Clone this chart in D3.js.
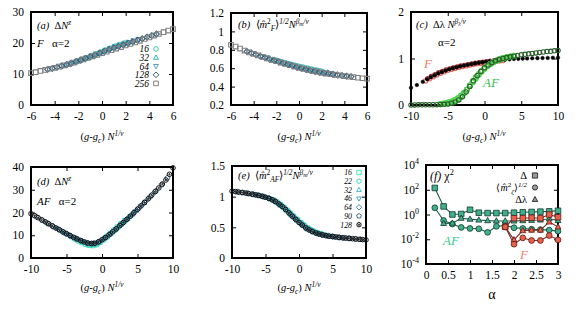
<!DOCTYPE html>
<html><head><meta charset="utf-8">
<script src="https://cdn.jsdelivr.net/npm/d3@7"></script>
<style>
body{margin:0;background:#fff}
svg{display:block;font-family:"Liberation Serif","Times New Roman",serif}
text{white-space:pre}
</style></head><body>
<svg id="c" width="580" height="309"></svg>
<script>
// ---------- DATA ----------
// panels (a),(b): F, alpha=2, sizes N
const sizesF = ["16","32","64","128","256"];
const xF256 = [-6,-5.6,-5.2,-4.8,-4.4,-4,-3.6,-3.2,-2.8,-2.4,-2,-1.6,-1.2,-0.8,-0.4,0,0.4,0.8,1.2,1.6,2,2.4,2.8,3.2,3.6,4,4.4,4.8,5.2,5.6,6];
const xF128 = [-4.6,-4.2,-3.8,-3.4,-3,-2.6,-2.2,-1.8,-1.4,-1,-0.6,-0.2,0.2,0.6,1,1.4,1.8,2.2,2.6,3,3.4,3.8,4.2,4.6];
const xF64 = [-3.3,-2.9,-2.5,-2.1,-1.7,-1.3,-0.9,-0.5,-0.1,0.3,0.7,1.1,1.5,1.9,2.3,2.7,3.1];
const xF32 = [-2.7,-2.3,-1.9,-1.5,-1.1,-0.7,-0.3,0.1,0.5,0.9,1.3,1.7,2.1,2.5];
const xF16 = [-2.1,-1.7,-1.3,-0.9,-0.5,-0.1,0.3,0.7,1.1,1.5,1.9];
const yA256 = [10.3,10.6,11.0,11.3,11.7,12.0,12.4,12.8,13.2,13.7,14.2,14.7,15.2,15.7,16.2,16.7,17.2,17.7,18.2,18.7,19.2,19.7,20.2,20.7,21.3,21.8,22.4,22.9,23.5,24.0,24.5];
const yA128 = [11.5,11.8,12.2,12.6,13.0,13.5,14.0,14.5,15.0,15.6,16.1,16.7,17.3,17.9,18.4,18.9,19.4,19.9,20.4,20.9,21.4,21.9,22.4,22.9];
const yA64 = [12.7,13.1,13.6,14.1,14.6,15.2,15.7,16.3,16.9,17.5,18.1,18.6,19.2,19.7,20.2,20.7,21.2];
const yA32 = [13.4,13.9,14.4,15.0,15.5,16.1,16.7,17.3,17.9,18.5,19.1,19.6,20.1,20.5];
const yA16 = [14.2,14.7,15.3,15.9,16.5,17.1,17.7,18.3,18.9,19.5,20.0];
const yB256 = [0.855,0.835,0.813,0.792,0.772,0.755,0.739,0.722,0.706,0.691,0.676,0.661,0.646,0.632,0.618,0.604,0.592,0.58,0.569,0.559,0.55,0.542,0.535,0.528,0.521,0.514,0.508,0.502,0.496,0.491,0.486];
const yB128 = [0.782,0.764,0.747,0.73,0.714,0.699,0.684,0.669,0.655,0.641,0.627,0.613,0.6,0.588,0.576,0.566,0.556,0.548,0.541,0.534,0.527,0.52,0.514,0.508];
const yB64 = [0.728,0.712,0.697,0.683,0.669,0.655,0.642,0.629,0.616,0.604,0.592,0.581,0.571,0.561,0.552,0.544,0.536];
const yB32 = [0.705,0.69,0.676,0.662,0.649,0.636,0.623,0.611,0.599,0.588,0.577,0.567,0.558,0.55];
const yB16 = [0.688,0.674,0.661,0.648,0.635,0.623,0.611,0.6,0.589,0.579,0.569];

// panel (c)
const xCF = [-10,-9.2,-8.4,-7.8,-7.3,-6.8,-6.3,-5.8,-5.3,-4.8,-4.3,-3.8,-3.3,-2.8,-2.3,-1.8,-1.3,-0.8,-0.3,0.2,0.7,1.2,1.7,2.2,2.8,3.4,4.0,4.6,5.2,5.8,6.5,7.2,7.9,8.6,9.3,10];
const yCF = [0.37,0.43,0.5,0.555,0.6,0.64,0.68,0.71,0.74,0.77,0.795,0.812,0.832,0.85,0.865,0.88,0.895,0.908,0.918,0.928,0.938,0.948,0.958,0.967,0.975,0.982,0.988,0.993,0.998,1.0,1.005,1.008,1.01,1.012,1.015,1.017];
const xCFa = [-8,-7.5,-7,-6.5,-6,-5.5,-5,-4.5,-4,-3.5,-3,-2.5,-2,-1.5,-1,-0.5,0,0.5,1,1.5,2,2.5];
const yCFa = [0.52,0.565,0.61,0.65,0.685,0.715,0.745,0.77,0.79,0.81,0.83,0.845,0.86,0.875,0.89,0.9,0.91,0.92,0.93,0.94,0.95,0.958];
const xCFb = [-7.75,-7.25,-6.75,-6.25,-5.75,-5.25,-4.75,-4.25,-3.75,-3.25,-2.75,-2.25,-1.75,-1.25,-0.75,-0.25,0.25,0.75,1.25,1.75,2.25];
const yCFb = [0.57,0.615,0.655,0.695,0.725,0.755,0.78,0.8,0.82,0.84,0.855,0.87,0.885,0.9,0.912,0.922,0.932,0.942,0.952,0.962,0.97];
const xCAF = [-10,-9.5,-9,-8.5,-8,-7.5,-7,-6.5,-6,-5.5,-5,-4.5,-4,-3.5,-3,-2.5,-2,-1.5,-1,-0.5,0,0.5,1,1.5,2,2.5,3,3.5,4,4.5,5,5.5,6,6.5,7,7.5,8,8.5,9,9.5,10];
const yCAF = [0.002,0.002,0.003,0.003,0.004,0.005,0.006,0.008,0.01,0.015,0.022,0.04,0.065,0.11,0.18,0.28,0.4,0.52,0.63,0.72,0.8,0.86,0.91,0.95,0.98,1.0,1.02,1.035,1.05,1.065,1.08,1.09,1.1,1.11,1.12,1.13,1.14,1.15,1.155,1.165,1.17];
const xCAFa = [-6,-5.6,-5.2,-4.8,-4.4,-4,-3.6,-3.2,-2.8,-2.4,-2,-1.6,-1.2,-0.8,-0.4,0,0.4,0.8,1.2,1.6,2,2.4,2.8,3.2,3.6,4];
const yCAFa = [0.02,0.03,0.04,0.06,0.08,0.11,0.15,0.2,0.26,0.33,0.41,0.49,0.57,0.65,0.72,0.78,0.84,0.88,0.92,0.95,0.98,1.0,1.02,1.03,1.045,1.055];
const xCAFb = [-4.8,-4.4,-4,-3.6,-3.2,-2.8,-2.4,-2,-1.6,-1.2,-0.8,-0.4,0,0.4,0.8,1.2,1.6,2,2.4,2.8,3.2];
const yCAFb = [0.03,0.05,0.08,0.12,0.17,0.24,0.33,0.43,0.52,0.6,0.67,0.74,0.8,0.85,0.89,0.93,0.96,0.985,1.005,1.02,1.035];

// panels (d),(e): AF, alpha=2
const sizesAF = ["16","22","32","46","64","90","128"];
const xN128 = [-10,-9.5,-9,-8.5,-8,-7.5,-7,-6.5,-6,-5.5,-5,-4.5,-4,-3.5,-3,-2.5,-2,-1.5,-1,-0.5,0,0.5,1,1.5,2,2.5,3,3.5,4,4.5,5,5.5,6,6.5,7,7.5,8,8.5,9,9.5,10];
const xN90 = [-9.2,-8.4,-7.6,-6.8,-6,-5.2,-4.4,-3.6,-2.8,-2,-1.2,-0.4,0.4,1.2,2,2.8,3.6,4.4,5.2,6,6.8,7.6,8.4,9.2];
const xN64 = [-7.8,-7,-6.2,-5.4,-4.6,-3.8,-3,-2.2,-1.4,-0.6,0.2,1,1.8,2.6,3.4,4.2,5,5.8,6.6,7.4];
const xN46 = [-6.5,-5.8,-5.1,-4.4,-3.7,-3,-2.3,-1.6,-0.9,-0.2,0.5,1.2,1.9,2.6,3.3,4,4.7,5.4,6.1];
const xN32 = [-5.4,-4.8,-4.2,-3.6,-3,-2.4,-1.8,-1.2,-0.6,0,0.6,1.2,1.8,2.4,3,3.6,4.2,4.8];
const xN22 = [-4.5,-3.9,-3.3,-2.7,-2.1,-1.5,-0.9,-0.3,0.3,0.9,1.5,2.1,2.7,3.3,3.9];
const xN16 = [-3.8,-3.3,-2.8,-2.3,-1.8,-1.3,-0.8,-0.3,0.2,0.7,1.2,1.7,2.2,2.7,3.2];
const yD128 = [19.5,18.6,17.7,16.8,15.9,15.0,14.1,13.2,12.4,11.5,10.7,9.9,9.1,8.4,7.7,7.1,6.6,6.4,6.5,7.1,8.0,9.0,10.2,11.5,12.8,14.2,15.6,17.0,18.4,19.9,21.4,22.9,24.4,26.0,27.6,29.2,30.8,32.5,34.3,36.8,39.6];
const yD90 = [18.1,16.6,15.2,13.7,12.4,11.0,9.7,8.5,7.4,6.5,6.4,7.2,8.8,10.7,12.8,15.0,17.3,19.6,22.0,24.4,27.0,29.5,32.2,35.2];
const yD64 = [15.5,14.1,12.7,11.3,10.0,8.7,7.6,6.7,6.3,6.9,8.5,10.2,12.2,14.5,16.7,19.0,21.4,23.8,26.3,28.9];
const yD46 = [13.2,11.9,10.6,9.5,8.3,7.4,6.6,6.1,6.3,7.4,8.9,10.7,12.6,14.5,16.5,18.4,20.5,22.6,24.7];
const yD32 = [11.3,10.3,9.2,8.2,7.3,6.6,6.0,5.9,6.5,7.7,9.2,10.7,12.3,14.0,15.7,17.3,19.0,20.8];
const yD22 = [9.7,8.7,7.8,6.9,6.1,5.7,5.9,6.9,8.4,10.0,11.6,13.2,14.9,16.5,18.1];
const yD16 = [8.5,7.6,6.8,6.1,5.6,5.5,5.9,6.9,8.1,9.4,10.8,12.2,13.6,15.0,16.4];
const yE128 = [1.09,1.083,1.075,1.068,1.06,1.05,1.04,1.03,1.02,1.006,0.99,0.972,0.95,0.92,0.88,0.84,0.79,0.735,0.68,0.63,0.58,0.535,0.49,0.458,0.43,0.408,0.39,0.377,0.365,0.357,0.35,0.342,0.335,0.33,0.325,0.32,0.315,0.31,0.305,0.3,0.295];
const yE90 = [1.078,1.066,1.052,1.036,1.02,0.998,0.968,0.926,0.864,0.792,0.704,0.622,0.545,0.476,0.432,0.398,0.375,0.359,0.347,0.335,0.327,0.319,0.311,0.303];
const yE64 = [1.057,1.04,1.024,1.004,0.976,0.936,0.882,0.814,0.728,0.645,0.568,0.5,0.445,0.406,0.38,0.362,0.35,0.338,0.329,0.321];
const yE46 = [1.03,1.014,0.994,0.97,0.935,0.885,0.82,0.75,0.68,0.612,0.55,0.488,0.44,0.407,0.383,0.366,0.355,0.344,0.334];
const yE32 = [1.004,0.984,0.962,0.93,0.888,0.84,0.78,0.72,0.658,0.6,0.545,0.496,0.454,0.42,0.395,0.377,0.363,0.352];
const yE22 = [0.975,0.948,0.91,0.864,0.81,0.752,0.694,0.636,0.58,0.528,0.482,0.446,0.418,0.396,0.378];
const yE16 = [0.94,0.908,0.868,0.824,0.775,0.723,0.672,0.622,0.575,0.53,0.49,0.456,0.43,0.41,0.394];

// panel (f): chi^2 vs alpha
const aAF = [0.2,0.4,0.6,0.8,1,1.2,1.4,1.6,1.8,2,2.2,2.4,2.6,2.8,3];
const chiAF_D = [140,4.5,1.0,1.1,2.4,1.4,1.3,1.3,1.3,1.4,1.5,1.6,1.7,1.8,2.0];
const chiAF_M = [3.5,0.33,0.17,0.09,0.075,0.07,0.036,0.11,0.13,0.085,0.075,0.065,0.06,0.055,0.045];
const aAFl = [0.4,0.6,0.8,1,1.2,1.4,1.6,1.8,2,2.2,2.4,2.6,2.8,3];
const chiAF_L = [0.19,0.2,0.5,0.42,0.36,0.32,0.3,0.3,0.3,0.32,0.34,0.36,0.45,0.33];
const aF = [1.8,2,2.2,2.4,2.6,2.8,3];
const chiF_D = [0.1,0.5,0.5,0.55,0.5,1.0,0.6];
const chiF_L = [0.1,0.009,0.05,0.055,0.055,0.25,0.1];
const chiF_M = [0.1,0.004,0.013,0.008,0.008,0.02,0.009];

// ---------- DRAWING ----------
const FONT = "Liberation Serif, Times New Roman, serif";
const svg = d3.select("#c");

function mk(type, s) {
  const p = d3.path();
  if (type === "sq") p.rect(-s, -s, 2*s, 2*s);
  else if (type === "ci") { p.moveTo(s, 0); p.arc(0, 0, s, 0, 2*Math.PI); p.closePath(); }
  else if (type === "tu") { p.moveTo(0, -s*1.15); p.lineTo(s*1.05, s*0.75); p.lineTo(-s*1.05, s*0.75); p.closePath(); }
  else if (type === "td") { p.moveTo(0, s*1.15); p.lineTo(s*1.05, -s*0.75); p.lineTo(-s*1.05, -s*0.75); p.closePath(); }
  else if (type === "di") { p.moveTo(0, -s*1.25); p.lineTo(s*1.25, 0); p.lineTo(0, s*1.25); p.lineTo(-s*1.25, 0); p.closePath(); }
  else if (type === "pe") { for (let k = 0; k < 5; k++) { const a = -Math.PI/2 + k*2*Math.PI/5; const X = s*1.15*Math.cos(a), Y = s*1.15*Math.sin(a); if (k) p.lineTo(X, Y); else p.moveTo(X, Y); } p.closePath(); }
  else if (type === "cd") { p.moveTo(s, 0); p.arc(0, 0, s, 0, 2*Math.PI); p.closePath(); p.moveTo(0.7, 0); p.arc(0, 0, 0.7, 0, 2*Math.PI); p.closePath(); }
  else if (type === "dot") { p.moveTo(s, 0); p.arc(0, 0, s, 0, 2*Math.PI); p.closePath(); }
  return p.toString();
}

function panel(o) {
  const g = svg.append("g");
  const x = d3.scaleLinear().domain(o.xd).range([o.l, o.r]);
  const y = (o.log ? d3.scaleLog() : d3.scaleLinear()).domain(o.yd).range([o.b, o.t]);
  const fs = 11.5;
  const ax = (axis, tr, lab) => {
    const a = g.append("g").attr("transform", tr).call(axis);
    a.select(".domain").remove();
    a.selectAll("line").attr("stroke", "#000").attr("stroke-width", 1);
    a.selectAll("text").attr("font-family", FONT).attr("font-size", fs).attr("fill", "#000");
    if (!lab) a.selectAll("text").remove();
    return a;
  };
  ax(d3.axisBottom(x).tickValues(o.xt).tickSizeInner(-4).tickSizeOuter(0).tickPadding(7).tickFormat(d => String(d)), `translate(0,${o.b})`, true);
  ax(d3.axisTop(x).tickValues(o.xt).tickSizeInner(-4).tickSizeOuter(0), `translate(0,${o.t})`, false);
  const la = ax(d3.axisLeft(y).tickValues(o.yt).tickSizeInner(-4).tickSizeOuter(0).tickPadding(7).tickFormat(d => String(d)), `translate(${o.l},0)`, true);
  ax(d3.axisRight(y).tickValues(o.yt).tickSizeInner(-4).tickSizeOuter(0), `translate(${o.r},0)`, false);
  g.append("rect").attr("x", o.l).attr("y", o.t).attr("width", o.r - o.l).attr("height", o.b - o.t)
    .attr("fill", "none").attr("stroke", "#000").attr("stroke-width", 2);
  const pts = g.append("g");
  return { g, pts, x, y, la, o };
}

function series(P, xs, ys, type, s, stroke, fill, sw) {
  P.pts.append("g").selectAll("path").data(d3.zip(xs, ys)).join("path")
    .attr("transform", d => `translate(${P.x(d[0])},${P.y(d[1])})`)
    .attr("d", mk(type, s)).attr("fill", fill || "none").attr("stroke", stroke).attr("stroke-width", sw || 1);
}
function polyline(P, xs, ys, color, sw) {
  P.pts.append("path").datum(d3.zip(xs, ys))
    .attr("d", d3.line().x(d => P.x(d[0])).y(d => P.y(d[1])))
    .attr("fill", "none").attr("stroke", color).attr("stroke-width", sw || 1);
}
function rich(g, x, y, parts, fs, anchor, color) {
  const t = g.append("text").attr("x", x).attr("y", y).attr("font-family", FONT)
    .attr("font-size", fs).attr("text-anchor", anchor || "start").attr("fill", color || "#000");
  let cur = 0;
  parts.forEach(p => {
    const txt = p[0], st = p[1] || "";
    let off = 0, size = fs;
    if (st.includes("u")) { off = -fs*0.42; size = fs*0.7; }
    if (st.includes("d")) { off = fs*0.28; size = fs*0.7; }
    if (st.includes("w")) { off = -fs*0.22; size = fs*0.55; }
    const ts = t.append("tspan").attr("dy", off - cur).attr("font-size", size).text(txt);
    if (st.includes("i")) ts.attr("font-style", "italic");
    cur = off;
  });
  return t;
}
const xlabParts = [["(",""],["g","i"],["-",""],["g","i"],["c","id"],[") ",""],["N","i"],["1/ν","iu"]];

// ---------- (a) ----------
const colF = { "16": "#3ec8a6", "32": "#3ab8c4", "64": "#5a9cc4", "128": "#35607a", "256": "#808080" };
const shpF = { "16": "ci", "32": "tu", "64": "td", "128": "di", "256": "sq" };
const A = panel({ l: 31, r: 173, t: 12, b: 105, xd: [-6, 6], yd: [0, 30], xt: [-6,-4,-2,0,2,4,6], yt: [0,10,20,30] });
const dataA = { "256": [xF256, yA256], "128": [xF128, yA128], "64": [xF64, yA64], "32": [xF32, yA32], "16": [xF16, yA16] };
sizesF.forEach(n => series(A, dataA[n][0], dataA[n][1], shpF[n], 2.3, colF[n], "none", 1.1));
rich(A.g, 37, 29, [["(a)","i"],["  Δ",""],["N","i"],["z","iu"]], 10.5);
rich(A.g, 37, 47, [["F","i"],["   α=2",""]], 11);
sizesF.forEach((n, i) => {
  const cy = 49 + i*8.6;
  A.g.append("text").attr("x", 149).attr("y", cy + 3.3).attr("text-anchor", "end")
    .attr("font-family", FONT).attr("font-style", "italic").attr("font-size", 9.5).text(n);
  A.g.append("path").attr("transform", `translate(156,${cy})`).attr("d", mk(shpF[n], 2.3))
    .attr("fill", "none").attr("stroke", colF[n]);
});
rich(A.g, 102, 140, xlabParts, 10.5, "middle");

// ---------- (b) ----------
const Bp = panel({ l: 231, r: 367, t: 13, b: 105, xd: [-6, 6], yd: [0.2, 1.2], xt: [-6,-4,-2,0,2,4,6], yt: [0.2,0.4,0.6,0.8,1,1.2] });
const dataB = { "256": [xF256, yB256], "128": [xF128, yB128], "64": [xF64, yB64], "32": [xF32, yB32], "16": [xF16, yB16] };
sizesF.forEach(n => series(Bp, dataB[n][0], dataB[n][1], shpF[n], 2.3, colF[n], "none", 1.1));
rich(Bp.g, 238, 28, [["(b)","i"],["  ⟨",""],["m̂","i"],["2","u"],["F","id"],["⟩",""],["1/2","iu"],["N","i"],["β","iu"],["m","iw"],["/ν","iu"]], 10.5);
rich(Bp.g, 299, 140, xlabParts, 10.5, "middle");

// ---------- (c) ----------
const C = panel({ l: 411, r: 558, t: 12, b: 105, xd: [-10, 10], yd: [0, 2], xt: [-10,-5,0,5,10], yt: [0,1,2] });
series(C, xCFa, yCFa, "ci", 2.2, "#e07a70", "none", 1.3);
series(C, xCFb, yCFb, "ci", 2.0, "#9a3030", "none", 1.2);
series(C, xCF, yCF, "dot", 1.8, "#000", "#000", 0.5);
series(C, xCAFa, yCAFa, "ci", 2.4, "#48dc48", "none", 1.5);
series(C, xCAFb, yCAFb, "ci", 2.2, "#58c858", "none", 1.3);
series(C, xCAF, yCAF, "ci", 2.2, "#2a5e2a", "none", 1.1);
rich(C.g, 416, 28, [["(c)","i"],["  Δλ ",""],["N","i"],["β","iu"],["λ","iw"],["/ν","iu"]], 10.5);
rich(C.g, 438, 46, [["α=2",""]], 11);
rich(C.g, 424, 68, [["F","i"]], 13, "start", "#f07a66");
rich(C.g, 483, 87, [["AF","i"]], 13, "start", "#3cc050");
rich(C.g, 484, 140, xlabParts, 10.5, "middle");

// ---------- (d) ----------
const colA = { "16": "#40e6b0", "22": "#3fd4c0", "32": "#48c2d2", "46": "#52a8cc", "64": "#4688aa", "90": "#436a8a", "128": "#111111" };
const shpA = { "16": "sq", "22": "ci", "32": "tu", "46": "td", "64": "di", "90": "pe", "128": "cd" };
const xN = { "16": xN16, "22": xN22, "32": xN32, "46": xN46, "64": xN64, "90": xN90, "128": xN128 };
const yD = { "16": yD16, "22": yD22, "32": yD32, "46": yD46, "64": yD64, "90": yD90, "128": yD128 };
const yE = { "16": yE16, "22": yE22, "32": yE32, "46": yE46, "64": yE64, "90": yE90, "128": yE128 };
const D = panel({ l: 31, r: 173, t: 167, b: 258, xd: [-10, 10], yd: [0, 40], xt: [-10,-5,0,5,10], yt: [0,10,20,30,40] });
sizesAF.forEach(n => series(D, xN[n], yD[n], shpA[n], 2.3, colA[n], "none", 1));
rich(D.g, 37, 185, [["(d)","i"],["  Δ",""],["N","i"],["z","iu"]], 10.5);
rich(D.g, 37, 205, [["AF","i"],["   α=2",""]], 11);
rich(D.g, 102, 291, xlabParts, 10.5, "middle");

// ---------- (e) ----------
const E = panel({ l: 232, r: 366, t: 166, b: 258, xd: [-10, 10], yd: [0, 1.5], xt: [-10,-5,0,5,10], yt: [0,0.5,1,1.5] });
sizesAF.forEach(n => series(E, xN[n], yE[n], shpA[n], 2.3, colA[n], "none", 1));
rich(E.g, 238, 179, [["(e)","i"],["  ⟨",""],["m̂","i"],["2","u"],["AF","id"],["⟩",""],["1/2","iu"],["N","i"],["β","iu"],["m","iw"],["/ν","iu"]], 10.5);
sizesAF.forEach((n, i) => {
  const cy = 172.5 + i*8.7;
  E.g.append("text").attr("x", 352).attr("y", cy + 2.8).attr("text-anchor", "end")
    .attr("font-family", FONT).attr("font-style", "italic").attr("font-size", 7.8).text(n);
  E.g.append("path").attr("transform", `translate(359,${cy})`).attr("d", mk(shpA[n], 2.2))
    .attr("fill", "none").attr("stroke", colA[n]);
});
rich(E.g, 299, 291, xlabParts, 10.5, "middle");

// ---------- (f) ----------
const Fp = panel({ l: 426, r: 558, t: 165, b: 264, xd: [0, 3], yd: [1e-4, 1e4], log: true, xt: [0,0.5,1,1.5,2,2.5,3], yt: [1e-4,1e-2,1,1e2,1e4] });
Fp.la.selectAll(".tick text").each(function(d) {
  const t = d3.select(this); const e = Math.round(Math.log10(d));
  t.text(null);
  t.append("tspan").text("10");
  t.append("tspan").attr("dy", -5).attr("font-size", 8).text(String(e));
});
const gAF = { line: "#1f5a4c", fill: "#3eb08a", edge: "#14382e" };
const gF = { line: "#7a2a22", fill: "#e8604c", edge: "#5a1a14" };
polyline(Fp, aAF, chiAF_D, gAF.line, 1.1);
polyline(Fp, aAF, chiAF_M, gAF.line, 1.1);
polyline(Fp, aAFl, chiAF_L, gAF.line, 1.1);
series(Fp, aAF, chiAF_D, "sq", 2.8, gAF.edge, gAF.fill, 0.8);
series(Fp, aAF, chiAF_M, "ci", 2.9, gAF.edge, gAF.fill, 0.8);
series(Fp, aAFl, chiAF_L, "tu", 2.8, gAF.edge, gAF.fill, 0.8);
polyline(Fp, aF, chiF_D, gF.line, 1.1);
polyline(Fp, aF, chiF_L, gF.line, 1.1);
polyline(Fp, aF, chiF_M, gF.line, 1.1);
series(Fp, aF, chiF_D, "sq", 2.8, gF.edge, gF.fill, 0.8);
series(Fp, aF, chiF_L, "tu", 2.8, gF.edge, gF.fill, 0.8);
series(Fp, aF, chiF_M, "ci", 2.9, gF.edge, gF.fill, 0.8);
rich(Fp.g, 430, 180, [["(f)","i"],[" χ",""],["2","u"]], 12);
rich(Fp.g, 527, 179, [["Δ",""]], 10.5, "end");
rich(Fp.g, 527, 191, [["⟨",""],["m̂","i"],["2","u"],["ζ","id"],["⟩",""],["1/2","iu"]], 10, "end");
rich(Fp.g, 527, 203, [["Δλ",""]], 10.5, "end");
[["sq",175.5],["ci",187.5],["tu",199.5]].forEach(([s, cy]) =>
  Fp.g.append("path").attr("transform", `translate(535,${cy})`).attr("d", mk(s, 2.6))
    .attr("fill", "#9a9a9a").attr("stroke", "#111").attr("stroke-width", 0.8));
rich(Fp.g, 443, 245, [["AF","i"]], 13, "start", "#3cc890");
rich(Fp.g, 520, 259, [["F","i"]], 13, "start", "#f08070");
rich(Fp.g, 492, 299, [["α",""]], 14, "middle");
</script>
</body></html>
